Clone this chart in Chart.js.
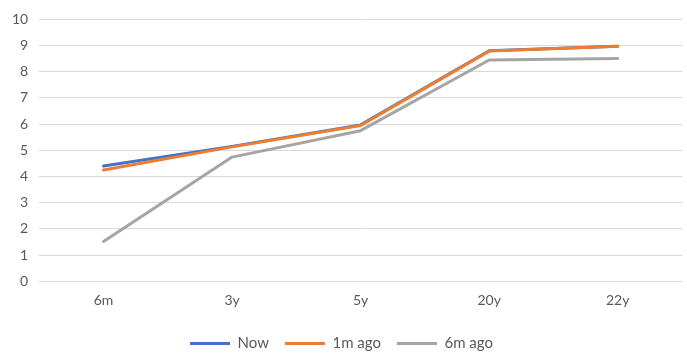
<!DOCTYPE html>
<html>
<head>
<meta charset="utf-8">
<script src="https://cdn.jsdelivr.net/npm/chart.js@4.4.1/dist/chart.umd.min.js"></script>
<style>
  html, body { margin: 0; padding: 0; background: #ffffff; }
  #wrap { width: 687px; height: 361px; }
</style>
</head>
<body>
<div id="wrap"><canvas id="c"></canvas></div>
<script>
// Tenors along the curve
const tenors = ['6m', '3y', '5y', '20y', '22y'];

// Yields (%) at each tenor
const nowYields = [4.40, 5.15, 5.97, 8.80, 8.97];
const oneMonthAgo = [4.25, 5.13, 5.95, 8.79, 8.97];
const sixMonthsAgo = [1.52, 4.74, 5.75, 8.45, 8.51];

// Y axis tick values
const yTicks = [0, 1, 2, 3, 4, 5, 6, 7, 8, 9, 10];

const textColor = '#595959';
const gridColor = '#D9D9D9';
const fontFamily = 'Lato, "Liberation Sans", sans-serif';

function series(label, data, color) {
  return {
    label: label,
    data: data,
    borderColor: color,
    backgroundColor: color,
    borderWidth: 3,
    pointRadius: 0,
    pointHoverRadius: 0,
    tension: 0,
    fill: false,
    borderCapStyle: 'round',
    borderJoinStyle: 'round'
  };
}

// Later series sit on top, so they are listed first; the legend is reversed
new Chart(document.getElementById('c'), {
  type: 'line',
  data: {
    labels: tenors,
    datasets: [
      series('6m ago', sixMonthsAgo, '#A5A5A5'),
      series('1m ago', oneMonthAgo, '#ED7D31'),
      series('Now', nowYields, '#4472C4')
    ]
  },
  options: {
    responsive: true,
    maintainAspectRatio: false,
    animation: false,
    layout: { padding: { top: 2, right: 5, left: 1, bottom: 0 } },
    plugins: {
      tooltip: { enabled: false },
      legend: {
        position: 'bottom',
        reverse: true,
        labels: {
          color: textColor,
          font: { family: fontFamily, size: 15 },
          boxWidth: 40,
          boxHeight: 3,
          padding: 16,
          generateLabels: function (chart) {
            const items = Chart.defaults.plugins.legend.labels.generateLabels(chart);
            items.forEach(function (it) {
              it.lineWidth = 0;
              it.fillStyle = it.strokeStyle;
            });
            return items;
          }
        }
      }
    },
    scales: {
      x: {
        offset: true,
        grid: { display: false, drawTicks: false },
        border: { display: false },
        ticks: {
          color: textColor,
          font: { family: fontFamily, size: 14 },
          padding: 11
        }
      },
      y: {
        min: yTicks[0],
        max: yTicks[yTicks.length - 1],
        afterBuildTicks: function (axis) {
          axis.ticks = yTicks.map(function (v) { return { value: v }; });
        },
        grid: { color: gridColor, lineWidth: 1, drawTicks: false },
        border: { display: false },
        ticks: {
          color: textColor,
          font: { family: fontFamily, size: 14 },
          padding: 11
        }
      }
    }
  }
});
</script>
</body>
</html>
